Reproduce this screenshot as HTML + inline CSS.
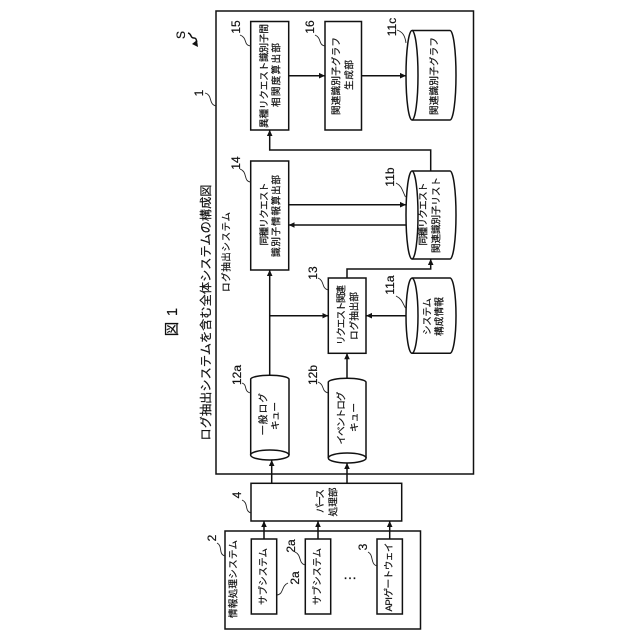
<!DOCTYPE html>
<html><head><meta charset="utf-8"><style>
html,body{margin:0;padding:0;background:#fff}
svg{display:block}
text{font-family:"Liberation Sans","Noto Sans CJK JP",sans-serif;font-size:9.6px;fill:#111;stroke:#111;stroke-width:.2;text-anchor:middle;dominant-baseline:central}
.b{fill:none;stroke:#111;stroke-width:1.5}
.l{fill:none;stroke:#111;stroke-width:1.5}
.c{fill:#fff;stroke:#111;stroke-width:1.5}
.q{fill:none;stroke:#222;stroke-width:.9}
.n{font-size:12px}
</style></head><body>
<svg width="640" height="640" viewBox="0 0 640 640" xmlns="http://www.w3.org/2000/svg">
<defs><marker id="a" markerUnits="userSpaceOnUse" markerWidth="7" markerHeight="7" refX="6" refY="3.5" orient="auto"><path d="M0 .7L6 3.5L0 6.3Z" fill="#111"/></marker></defs>

<!-- containers -->
<rect class="b" x="216" y="11" width="257.5" height="463"/>
<rect class="b" x="225" y="531" width="195.5" height="98"/>

<!-- boxes -->
<rect class="b" x="250.7" y="21.5" width="38" height="108.5"/>
<rect class="b" x="325" y="21.5" width="36.5" height="108.5"/>
<rect class="b" x="250.7" y="161" width="38" height="109"/>
<rect class="b" x="328.3" y="278" width="37.7" height="75.3"/>
<rect class="b" x="251" y="483.3" width="150.7" height="37.7"/>
<rect class="b" x="251.3" y="539" width="25.4" height="75"/>
<rect class="b" x="305.3" y="539" width="25.4" height="75"/>
<rect class="b" x="377" y="539" width="25.4" height="75"/>

<!-- horizontal cylinders -->
<path class="c" d="M412 30.5H450A6 44.75 0 0 1 450 120H412"/><ellipse class="c" cx="412" cy="75.25" rx="6" ry="44.75"/>
<path class="c" d="M412 171H450A6 44 0 0 1 450 259H412"/><ellipse class="c" cx="412" cy="215" rx="6" ry="44"/>
<path class="c" d="M412 278H450A6 37.6 0 0 1 450 353.3H412"/><ellipse class="c" cx="412" cy="315.7" rx="6" ry="37.6"/>

<!-- vertical cylinders -->
<path class="c" d="M250.7 455V379A19.2 4 0 0 1 289 379V455"/><ellipse class="c" cx="269.8" cy="455" rx="19.2" ry="5"/>
<path class="c" d="M328.3 458V382A18.9 4 0 0 1 366 382V458"/><ellipse class="c" cx="347.2" cy="458" rx="18.9" ry="5"/>

<!-- connectors -->
<path class="l" marker-end="url(#a)" d="M288.7 75.7H325"/>
<path class="l" marker-end="url(#a)" d="M361.5 75.7H406"/>
<path class="l" marker-end="url(#a)" d="M430.7 171V150H269.7V130"/>
<path class="l" marker-end="url(#a)" d="M288.7 204.7H406"/>
<path class="l" marker-end="url(#a)" d="M406 225H288.7"/>
<path class="l" marker-end="url(#a)" d="M269.7 375V270"/>
<path class="l" marker-end="url(#a)" d="M269.7 315.7H328.3"/>
<path class="l" marker-end="url(#a)" d="M406 315.7H366"/>
<path class="l" marker-end="url(#a)" d="M347 378V353.3"/>
<path class="l" marker-end="url(#a)" d="M347 278V269H430.7V259"/>
<path class="l" marker-end="url(#a)" d="M271.7 483.3V460"/>
<path class="l" marker-end="url(#a)" d="M347 483.3V463"/>
<path class="l" marker-end="url(#a)" d="M264 539V521"/>
<path class="l" marker-end="url(#a)" d="M318 539V521"/>
<path class="l" marker-end="url(#a)" d="M389.7 539V521"/>

<!-- leaders -->
<path class="q" d="M250.5 46C243 45 248 38 240 35"/>
<path class="q" d="M325 46C318 45 322 38 315 35"/>
<path class="q" d="M250.5 182C243 181 248 172 240 169"/>
<path class="q" d="M216 106C208 104 213 95 205 93"/>
<path class="q" d="M406 43C405 36 403 32 397 30"/>
<path class="q" d="M405.5 197C402 190 402 186 396 183"/>
<path class="q" d="M328 290C321 288 325 281 318 278"/>
<path class="q" d="M250.5 393C243 391 248 385 242 383"/>
<path class="q" d="M328 393C321 391 325 385 318 382"/>
<path class="q" d="M405.5 308C402 302 402 299 396 296"/>
<path class="q" d="M251 513C244 511 249 503 242 500"/>
<path class="q" d="M225 556C218 554 223 546 217 543"/>
<path class="q" d="M277 595C284 594 281 586 288 583"/>
<path class="q" d="M305 565C298 563 302 555 295 552"/>
<path class="q" d="M377 566C370 564 374 555 368 552"/>
<path class="l" stroke-width="1" d="M188 33C192 34 190 38 194 38C197 38 196 41 197 42"/>
<path d="M197 40L198 47L192 44Z" fill="#111"/>

<!-- labels -->
<text transform="translate(206 312.5) rotate(-90)" style="font-size:12.2px" textLength="256">ログ抽出システムを含む全体システムの構成図</text>
<text transform="translate(173 329) rotate(-90)" style="font-size:14.5px">図</text>
<text transform="translate(173 312) rotate(-90)" style="font-size:14.5px">1</text>
<text transform="translate(227 252) rotate(-90)" textLength="80">ログ抽出システム</text>
<text transform="translate(265 76) rotate(-90)" textLength="104">異種リクエスト識別子間</text>
<text transform="translate(277 75) rotate(-90)" textLength="64">相関度算出部</text>
<text transform="translate(337 76) rotate(-90)" textLength="78">関連識別子グラフ</text>
<text transform="translate(350 75) rotate(-90)" textLength="30">生成部</text>
<text transform="translate(435 76) rotate(-90)" textLength="78">関連識別子グラフ</text>
<text transform="translate(265 214) rotate(-90)" textLength="63">同種リクエスト</text>
<text transform="translate(277 216) rotate(-90)" textLength="82">識別子情報算出部</text>
<text transform="translate(424 214) rotate(-90)" textLength="63">同種リクエスト</text>
<text transform="translate(437 215) rotate(-90)" textLength="76">関連識別子リスト</text>
<text transform="translate(342 315) rotate(-90)" textLength="60">リクエスト関連</text>
<text transform="translate(355 316) rotate(-90)" textLength="48">ログ抽出部</text>
<text transform="translate(428 316.5) rotate(-90)" textLength="37">システム</text>
<text transform="translate(440 316.5) rotate(-90)" textLength="39">構成情報</text>
<text transform="translate(264 414) rotate(-90)" textLength="42">一般ログ</text>
<text transform="translate(276 416) rotate(-90)" textLength="28">キュー</text>
<text transform="translate(342 418) rotate(-90)" textLength="53">イベントログ</text>
<text transform="translate(355 417.5) rotate(-90)" textLength="29">キュー</text>
<text transform="translate(321 501) rotate(-90)" textLength="24">パース</text>
<text transform="translate(334 502) rotate(-90)" textLength="29">処理部</text>
<text transform="translate(234 579) rotate(-90)" textLength="78">情報処理システム</text>
<text transform="translate(264 576.5) rotate(-90)" textLength="57">サブシステム</text>
<text transform="translate(318 576.5) rotate(-90)" textLength="57">サブシステム</text>
<text transform="translate(389.5 577) rotate(-90)" textLength="69">APIゲートウェイ</text>
<text x="350" y="574" style="font-size:14px" textLength="14">…</text>

<text class="n" transform="translate(236 27) rotate(-90)">15</text>
<text class="n" transform="translate(310 27) rotate(-90)">16</text>
<text class="n" transform="translate(392 27) rotate(-90)">11c</text>
<text class="n" transform="translate(236 163) rotate(-90)">14</text>
<text class="n" transform="translate(390 177) rotate(-90)">11b</text>
<text class="n" transform="translate(313 273) rotate(-90)">13</text>
<text class="n" transform="translate(390 285) rotate(-90)">11a</text>
<text class="n" transform="translate(237 375) rotate(-90)">12a</text>
<text class="n" transform="translate(313 375) rotate(-90)">12b</text>
<text class="n" transform="translate(199 93) rotate(-90)">1</text>
<text class="n" transform="translate(181 35) rotate(-90)">S</text>
<text class="n" transform="translate(237 495) rotate(-90)">4</text>
<text class="n" transform="translate(212 538) rotate(-90)">2</text>
<text class="n" transform="translate(295 578) rotate(-90)">2a</text>
<text class="n" transform="translate(291 546) rotate(-90)">2a</text>
<text class="n" transform="translate(363 547) rotate(-90)">3</text>
</svg>
</body></html>
